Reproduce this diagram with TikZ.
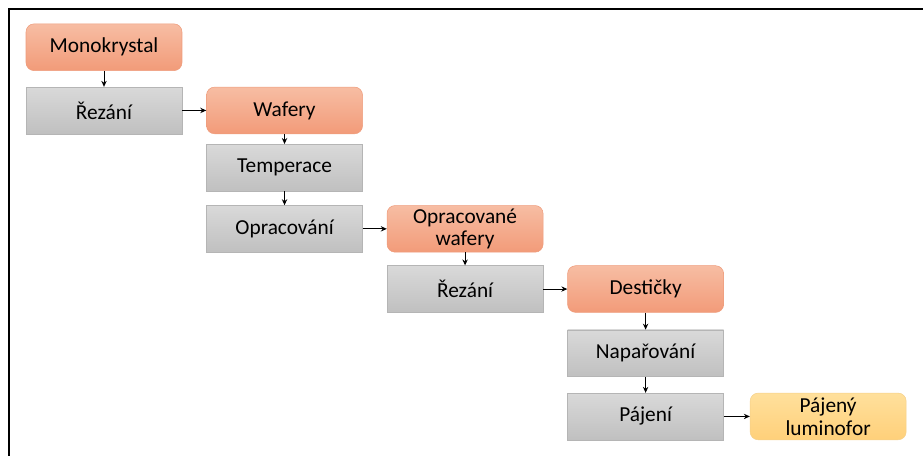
\documentclass[tikz,border=0pt]{standalone}
\usepackage{fontspec}
\setmainfont{Carlito}
\usetikzlibrary{arrows.meta,positioning}

\definecolor{ortop}{HTML}{F7BDA3}
\definecolor{orbot}{HTML}{F29B79}
\definecolor{orline}{HTML}{EE9C7C}
\definecolor{grtop}{HTML}{D9D9D9}
\definecolor{grbot}{HTML}{C0C0C0}
\definecolor{grline}{HTML}{B5B5B5}
\definecolor{yetop}{HTML}{FFE09C}
\definecolor{yebot}{HTML}{FFD07A}
\definecolor{yeline}{HTML}{F5D08A}

\begin{document}
\begin{tikzpicture}[
  x=0.75pt, y=-0.75pt,
  node distance=12pt and 18pt,
  base/.style={rectangle, minimum width=117pt, minimum height=35pt,
               inner sep=0.5pt, align=center,
               font=\fontsize{16}{17}\selectfont},
  product/.style={base, draw=orline, rounded corners=6pt,
                  top color=ortop, bottom color=orbot},
  process/.style={base, draw=grline, top color=grtop, bottom color=grbot},
  final/.style={base, draw=yeline, rounded corners=6pt,
                top color=yetop, bottom color=yebot},
  arr/.style={-{Stealth[length=4.5pt,width=4pt]}, line width=0.75pt},
]
  \useasboundingbox (0,0) rectangle (923,456);

  % Frame
  \draw[line width=1.1pt] (923,9) -- (9,9) -- (9,456);

  % Steps
  \node[product] (mono) at (104,47.25) {Monokrystal};
  \node[process, below=of mono] (rez1) {Řezání};
  \node[product, right=of rez1] (waf) {Wafery};
  \node[process, below=7.5pt of waf] (temp) {Temperace};
  \node[process, below=10.5pt of temp] (oprac) {Opracování};
  \node[product, right=of oprac] (opwaf) {Opracované\\wafery};
  \node[process, below=9.75pt of opwaf] (rez2) {Řezání};
  \node[product, right=of rez2] (dest) {Destičky};
  \node[process, below=12.75pt of dest] (napar) {Napařování};
  \node[process, below=of napar] (paj) {Pájení};
  \node[final, right=19.5pt of paj] (lumin) {Pájený\\luminofor};

  % Arrows
  \draw[arr] (mono) -- (rez1);
  \draw[arr] (rez1) -- (waf);
  \draw[arr] (waf) -- (temp);
  \draw[arr] (temp) -- (oprac);
  \draw[arr] (oprac) -- (opwaf);
  \draw[arr] (opwaf) -- (rez2);
  \draw[arr] (rez2) -- (dest);
  \draw[arr] (dest) -- (napar);
  \draw[arr] (napar) -- (paj);
  \draw[arr] (paj) -- (lumin);
\end{tikzpicture}
\end{document}
